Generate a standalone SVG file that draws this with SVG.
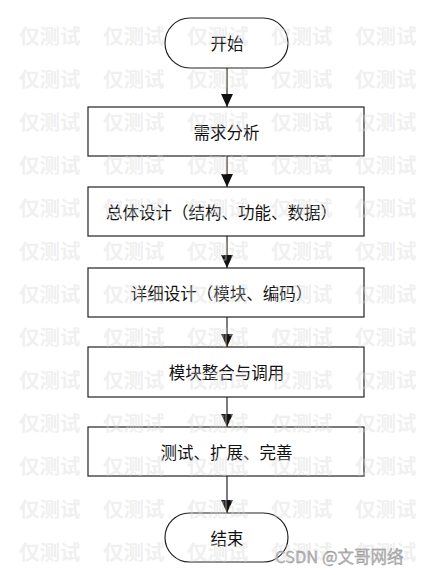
<svg xmlns="http://www.w3.org/2000/svg" width="427" height="575" viewBox="0 0 427 575">
<style>
.node{fill:#fff;stroke:#222;stroke-width:1.2}
.lbl{font-family:"Noto Sans CJK SC","Noto Sans",sans-serif;font-size:16.5px;fill:#111;text-anchor:middle;dominant-baseline:central}
.edge{stroke:#111;stroke-width:1.1;fill:none}
.wm{font-family:"Noto Sans CJK SC","Noto Sans",sans-serif;font-size:20.5px;font-weight:bold;fill:#d8d8d8;fill-opacity:0.4;dominant-baseline:central}
.sig{font-family:"Noto Sans CJK SC","Noto Sans",sans-serif;font-size:16.5px;fill:#b8b8b8;stroke:#8a8a8a;stroke-width:0.3;dominant-baseline:central}
</style>
<defs>
<marker id="ah" markerUnits="userSpaceOnUse" markerWidth="13" markerHeight="12" refX="12" refY="5.5" orient="auto" viewBox="0 0 12 11">
<path d="M0,0 L12,5.5 L0,11 Z" fill="#111"/>
</marker>
</defs>
<rect width="427" height="575" fill="#fff"/>
<g id="connectors">
<line class="edge" x1="227" y1="68" x2="227" y2="107" marker-end="url(#ah)"/>
<line class="edge" x1="227" y1="156" x2="227" y2="187" marker-end="url(#ah)"/>
<line class="edge" x1="227" y1="236" x2="227" y2="268" marker-end="url(#ah)"/>
<line class="edge" x1="227" y1="317" x2="227" y2="347" marker-end="url(#ah)"/>
<line class="edge" x1="227" y1="397" x2="227" y2="427" marker-end="url(#ah)"/>
<line class="edge" x1="227" y1="476" x2="227" y2="513" marker-end="url(#ah)"/>
</g>
<g id="start">
<rect class="node" x="165" y="18" width="123" height="50" rx="25" ry="25"/>
<text class="lbl" x="227" y="43">开始</text>
</g>
<g id="req">
<rect class="node" x="88" y="107" width="276" height="49"/>
<text class="lbl" x="226.5" y="132">需求分析</text>
</g>
<g id="overall">
<rect class="node" x="88" y="187" width="276" height="49"/>
<text class="lbl" x="221.5" y="212">总体设计（结构、功能、数据）</text>
</g>
<g id="detail">
<rect class="node" x="88" y="268" width="276" height="49"/>
<text class="lbl" x="221.5" y="293">详细设计（模块、编码）</text>
</g>
<g id="integrate">
<rect class="node" x="88" y="347" width="276" height="50"/>
<text class="lbl" x="226.5" y="372">模块整合与调用</text>
</g>
<g id="test">
<rect class="node" x="88" y="427" width="276" height="49"/>
<text class="lbl" x="226.5" y="452">测试、扩展、完善</text>
</g>
<g id="end">
<rect class="node" x="165" y="513" width="123" height="49" rx="24.5" ry="24.5"/>
<text class="lbl" x="227" y="538">结束</text>
</g>
<g id="watermark">
<text class="wm" x="19" y="35">仅测试</text><text class="wm" x="103" y="35">仅测试</text><text class="wm" x="187" y="35">仅测试</text><text class="wm" x="271" y="35">仅测试</text><text class="wm" x="355" y="35">仅测试</text>
<text class="wm" x="19" y="78">仅测试</text><text class="wm" x="103" y="78">仅测试</text><text class="wm" x="187" y="78">仅测试</text><text class="wm" x="271" y="78">仅测试</text><text class="wm" x="355" y="78">仅测试</text>
<text class="wm" x="19" y="121">仅测试</text><text class="wm" x="103" y="121">仅测试</text><text class="wm" x="187" y="121">仅测试</text><text class="wm" x="271" y="121">仅测试</text><text class="wm" x="355" y="121">仅测试</text>
<text class="wm" x="19" y="164">仅测试</text><text class="wm" x="103" y="164">仅测试</text><text class="wm" x="187" y="164">仅测试</text><text class="wm" x="271" y="164">仅测试</text><text class="wm" x="355" y="164">仅测试</text>
<text class="wm" x="19" y="207">仅测试</text><text class="wm" x="103" y="207">仅测试</text><text class="wm" x="187" y="207">仅测试</text><text class="wm" x="271" y="207">仅测试</text><text class="wm" x="355" y="207">仅测试</text>
<text class="wm" x="19" y="250">仅测试</text><text class="wm" x="103" y="250">仅测试</text><text class="wm" x="187" y="250">仅测试</text><text class="wm" x="271" y="250">仅测试</text><text class="wm" x="355" y="250">仅测试</text>
<text class="wm" x="19" y="293">仅测试</text><text class="wm" x="103" y="293">仅测试</text><text class="wm" x="187" y="293">仅测试</text><text class="wm" x="271" y="293">仅测试</text><text class="wm" x="355" y="293">仅测试</text>
<text class="wm" x="19" y="336">仅测试</text><text class="wm" x="103" y="336">仅测试</text><text class="wm" x="187" y="336">仅测试</text><text class="wm" x="271" y="336">仅测试</text><text class="wm" x="355" y="336">仅测试</text>
<text class="wm" x="19" y="379">仅测试</text><text class="wm" x="103" y="379">仅测试</text><text class="wm" x="187" y="379">仅测试</text><text class="wm" x="271" y="379">仅测试</text><text class="wm" x="355" y="379">仅测试</text>
<text class="wm" x="19" y="422">仅测试</text><text class="wm" x="103" y="422">仅测试</text><text class="wm" x="187" y="422">仅测试</text><text class="wm" x="271" y="422">仅测试</text><text class="wm" x="355" y="422">仅测试</text>
<text class="wm" x="19" y="465">仅测试</text><text class="wm" x="103" y="465">仅测试</text><text class="wm" x="187" y="465">仅测试</text><text class="wm" x="271" y="465">仅测试</text><text class="wm" x="355" y="465">仅测试</text>
<text class="wm" x="19" y="508">仅测试</text><text class="wm" x="103" y="508">仅测试</text><text class="wm" x="187" y="508">仅测试</text><text class="wm" x="271" y="508">仅测试</text><text class="wm" x="355" y="508">仅测试</text>
<text class="wm" x="19" y="551">仅测试</text><text class="wm" x="103" y="551">仅测试</text><text class="wm" x="187" y="551">仅测试</text><text class="wm" x="271" y="551">仅测试</text><text class="wm" x="355" y="551">仅测试</text>
</g>
<text class="sig" x="275" y="556">CSDN @文哥网络</text>
</svg>
